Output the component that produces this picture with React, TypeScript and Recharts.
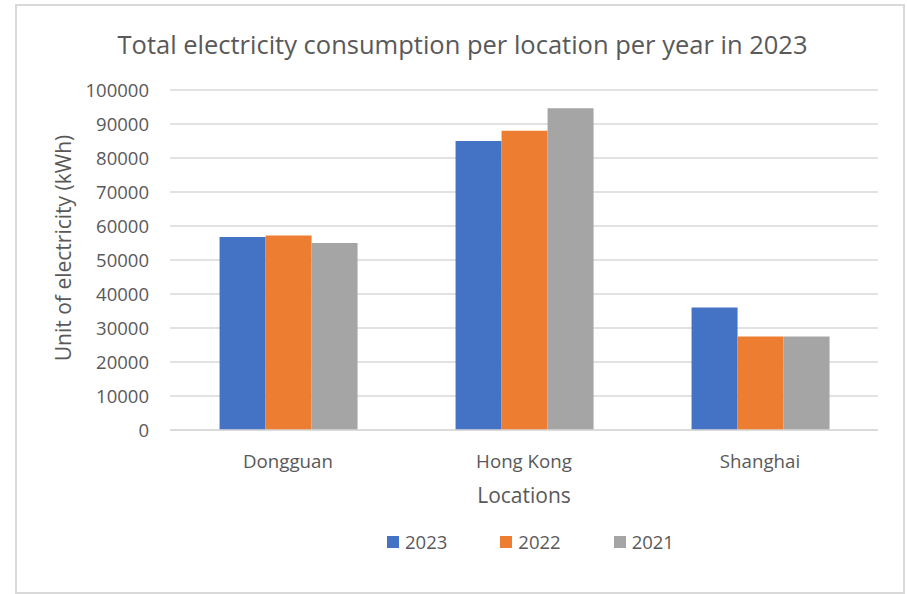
import { Bar, BarChart, CartesianGrid, Legend, XAxis, YAxis } from "recharts"

const locations = ["Dongguan", "Hong Kong", "Shanghai"]
const y2023 = [56800, 85000, 36000]
const y2022 = [57200, 88000, 27500]
const y2021 = [55000, 94600, 27500]
const yTicks = [0, 10000, 20000, 30000, 40000, 50000, 60000, 70000, 80000, 90000, 100000]

const data = locations.map((loc, i) => ({
  location: loc,
  "2023": y2023[i],
  "2022": y2022[i],
  "2021": y2021[i],
}))

const series = [
  { key: "2023", color: "#4472C4" },
  { key: "2022", color: "#ED7D31" },
  { key: "2021", color: "#A5A5A5" },
]

const font = "'Open Sans', sans-serif"
const textColor = "#595959"

function LegendBox() {
  return (
    <div style={{ display: "flex", gap: 53, fontFamily: font, fontSize: 18.5, color: textColor }}>
      {series.map((s) => (
        <div key={s.key} style={{ display: "flex", alignItems: "center", gap: 6 }}>
          <div style={{ width: 12, height: 12, background: s.color }}></div>
          <span>{s.key}</span>
        </div>
      ))}
    </div>
  )
}

export default function App() {
  return (
    <div style={{ position: "relative", width: 907, height: 594, background: "#fff", fontFamily: font }}>
      <style>{"body{margin:0}"}</style>
      <div
        style={{
          position: "absolute",
          left: 0,
          width: 907,
          top: 27,
          textAlign: "center",
          fontSize: 25.5,
          color: textColor,
          paddingLeft: 18,
          boxSizing: "border-box",
        }}
      >
        Total electricity consumption per location per year in 2023
      </div>
      <BarChart
        width={907}
        height={594}
        data={data}
        margin={{ top: 90, right: 29, bottom: 41, left: 0 }}
        barCategoryGap="21%"
        barGap={0}
        style={{ position: "absolute", left: 0, top: 0 }}
      >
        <CartesianGrid horizontal vertical={false} stroke="#d9d9d9" strokeWidth={1.5} />
        <XAxis
          dataKey="location"
          height={99}
          axisLine={{ stroke: "#d9d9d9", strokeWidth: 1.5 }}
          tickLine={false}
          tickSize={0}
          tickMargin={25}
          tick={{ fill: textColor, fontSize: 18.7, fontFamily: font }}
          label={{ value: "Locations", position: "insideTop", offset: 58, fill: textColor, fontSize: 21, fontFamily: font }}
        />
        <YAxis
          width={170}
          domain={[0, 100000]}
          ticks={yTicks}
          axisLine={false}
          tickLine={false}
          tickSize={0}
          tickMargin={21}
          tick={{ fill: textColor, fontSize: 18.5, fontFamily: font }}
          label={{
            value: "Unit of electricity (kWh)",
            angle: -90,
            position: "center",
            dx: -21,
            dy: -12,
            fill: textColor,
            fontSize: 21,
            fontFamily: font,
          }}
        />
        <Legend
          verticalAlign="bottom"
          height={24}
          content={<LegendBox />}
          wrapperStyle={{ left: 387, width: 320 }}
        />
        {series.map((s) => (
          <Bar key={s.key} dataKey={s.key} fill={s.color} isAnimationActive={false} />
        ))}
      </BarChart>
      <div
        style={{
          position: "absolute",
          left: 15,
          top: 4,
          width: 886,
          height: 586,
          border: "2px solid #d9d9d9",
          pointerEvents: "none",
        }}
      ></div>
    </div>
  )
}
